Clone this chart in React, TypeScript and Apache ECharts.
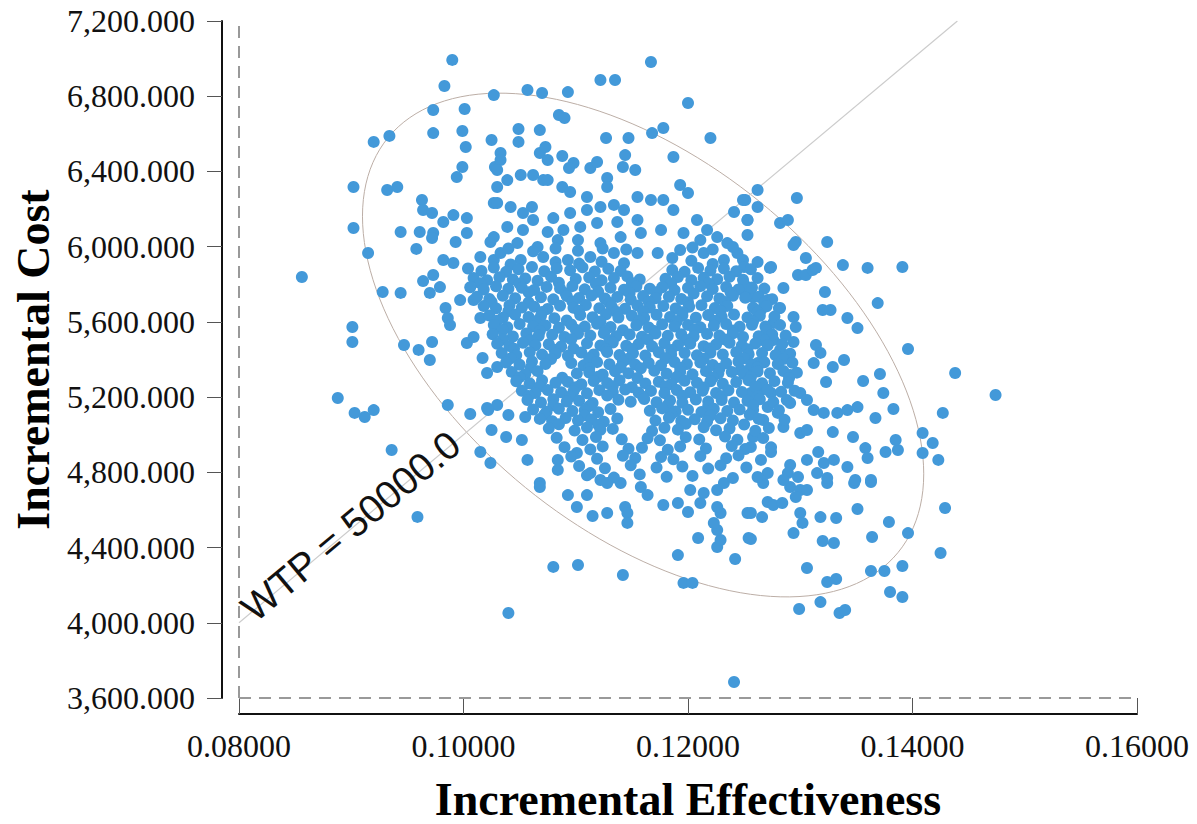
import React, { useEffect, useRef } from 'react';
import * as echarts from 'echarts';

const xTitle = 'Incremental Effectiveness';
const yTitle = 'Incremental Cost';
const xMin = 0.08;
const xMax = 0.16;
const xStep = 0.02;
const yMin = 3600;
const yMax = 7200;
const yStep = 400;
const WTP = 50000;
const wtpLabel = 'WTP = 50000.0';

// confidence ellipse (centre and two conjugate semi-axes, data units)
const ellipseCenter = [0.116, 5477];
const ellipseAxisU = [0.025, -685];
const ellipseAxisV = [0, 1151];

// scattered samples: [incremental effectiveness, incremental cost]
const outerSamples: [number, number][] = [
  [0.0990,6993],[0.0983,6854],[0.1027,6806],[0.0973,6727],[0.1001,6732],[0.0920,6557],[0.0934,6589],[0.0973,6604],[0.0999,6615],[0.1002,6530],[0.1025,6567],[0.0999,6424],[0.0994,6370],[0.0902,6317],[0.0932,6301],[0.0941,6317],[0.0963,6248],[0.0964,6195],[0.0972,6179],[0.0982,6131],[0.0991,6168],[0.1003,6152],[0.0902,6099],[0.0944,6078],[0.0961,6078],[0.0973,6073],[0.0972,6046],[0.1003,6073],[0.0993,6025],[0.1024,6025],[0.0958,5988],[0.0915,5966],[0.0982,5929],[0.0991,5913],[0.1015,5945],[0.1027,5929],[0.1028,6424],[0.1030,6317],[0.1027,6232],[0.1033,6498],
  [0.0856,5839],[0.0928,5759],[0.0944,5754],[0.0964,5817],[0.0973,5849],[0.0979,5785],[0.0970,5754],[0.0984,5674],[0.0986,5621],[0.0988,5583],[0.0997,5716],[0.1009,5716],[0.1015,5621],[0.1003,5488],[0.1009,5520],[0.0901,5573],[0.0901,5493],[0.0947,5477],[0.0960,5451],[0.0972,5493],[0.0970,5397],[0.1017,5408],[0.1021,5328],[0.1030,5360],[0.0888,5195],[0.0903,5116],[0.0912,5094],[0.0920,5131],[0.0986,5158],[0.1006,5110],[0.1021,5142],[0.1030,5158],[0.0936,4919],[0.1015,4908],[0.1024,4850],[0.0959,4563],[0.1040,4052],
  [0.1022,5131],[0.1040,5105],[0.1055,5094],[0.1025,5025],[0.1038,4988],[0.1052,4972],[0.1057,4866],[0.1084,4866],[0.1084,4813],[0.1068,4743],[0.1101,4903],[0.1113,4796],
  [0.1068,4722],[0.1093,4679],[0.1110,4679],[0.1101,4616],[0.1115,4568],[0.1128,4584],[0.1144,4616],[0.1146,4584],[0.1146,4531],[0.1080,4297],[0.1102,4307],[0.1142,4254],[0.1191,4360],[0.1196,4212],[0.1204,4212],[0.1209,4451],[0.1226,4403],[0.1229,4440],[0.1226,4493],[0.1229,4584],[0.1226,4616],[0.1223,4531],[0.1242,4339],[0.1241,3685],[0.1253,4584],[0.1254,4451],[0.1122,4759],[0.1128,4743],[0.1140,4743],[0.1158,4722],[0.1164,4679],[0.1178,4626],[0.1191,4637],[0.1200,4589],[0.1211,4637],[0.1214,4690],[0.1202,4706],[0.1226,4706],[0.1232,4743],
  [0.1267,4743],[0.1291,4722],[0.1300,4706],[0.1306,4706],[0.1324,4743],[0.1348,4743],[0.1363,4748],[0.1271,4642],[0.1276,4626],[0.1284,4637],[0.1296,4669],[0.1256,4584],[0.1266,4562],[0.1300,4584],[0.1302,4531],[0.1294,4477],[0.1318,4562],[0.1332,4557],[0.1351,4605],[0.1379,4536],[0.1429,4610],[0.1256,4445],[0.1320,4435],[0.1330,4424],[0.1364,4456],[0.1396,4477],[0.1425,4371],[0.1306,4291],[0.1324,4217],[0.1332,4233],[0.1363,4275],[0.1375,4275],[0.1391,4302],[0.1318,4110],[0.1299,4073],[0.1335,4052],[0.1340,4068],[0.1380,4164],[0.1391,4137],
  [0.1338,5902],[0.1360,5887],[0.1391,5892],[0.1273,5887],[0.1298,5849],[0.1305,5849],[0.1311,5876],[0.1285,5780],[0.1322,5759],[0.1369,5700],[0.1251,5754],[0.1258,5732],[0.1271,5716],[0.1265,5663],[0.1282,5674],[0.1320,5663],[0.1327,5663],[0.1342,5621],[0.1351,5567],[0.1294,5626],[0.1296,5573],[0.1276,5594],[0.1249,5520],[0.1267,5504],[0.1276,5504],[0.1282,5451],[0.1294,5493],[0.1314,5477],[0.1318,5435],[0.1312,5381],[0.1329,5360],[0.1339,5397],[0.1396,5456],[0.1438,5328],[0.1474,5211],[0.1291,5318],[0.1323,5280],[0.1356,5286],[0.1371,5323],[0.1374,5222],[0.1383,5137],[0.1367,5089],[0.1427,5116],[0.1247,5344],[0.1256,5360],[0.1262,5381],[0.1256,5222],[0.1265,5238],[0.1274,5222],[0.1271,5147],[0.1258,5131],[0.1280,5116],[0.1267,5078],[0.1285,5041],[0.1291,5169],[0.1300,5222],[0.1306,5185],[0.1312,5131],[0.1321,5116],[0.1333,5116],[0.1342,5131],[0.1351,5147],[0.1329,5014],[0.1347,4988],[0.1300,5009],[0.1306,5025],[0.1274,4908],[0.1291,4839],[0.1289,4796],[0.1306,4866],[0.1316,4908],[0.1321,4850],[0.1330,4866],[0.1315,4796],[0.1324,4770],[0.1342,4828],[0.1349,4759],[0.1363,4759],[0.1358,4929],[0.1360,4876],[0.1376,4908],[0.1387,4919],[0.1385,4972],[0.1409,5009],[0.1418,4956],[0.1409,4903],[0.1423,4866],[0.1258,4988],[0.1256,4935],[0.1265,4866],[0.1271,4796],[0.1262,4775],[0.1285,4759],[0.1298,4775],
  [0.1262,6301],[0.1251,6248],[0.1262,6211],[0.1297,6259],[0.1253,6142],[0.1253,6062],[0.1282,6126],[0.1289,6142],[0.1296,6025],[0.1294,6009],[0.1324,6025],[0.1305,5940],[0.1314,5887],[0.1262,5918],[0.1274,5892],[0.1249,5929],
  [0.1167,6982],[0.1122,6886],[0.1135,6886],[0.1057,6833],[0.1070,6817],[0.1093,6822],[0.1200,6764],[0.1085,6700],[0.1090,6684],[0.1049,6626],[0.1068,6620],[0.1049,6557],[0.1127,6578],[0.1147,6578],[0.1168,6604],[0.1178,6631],[0.1220,6578],[0.1068,6498],[0.1073,6530],[0.1075,6461],[0.1088,6482],[0.1033,6461],[0.1030,6408],[0.1098,6445],[0.1094,6418],[0.1113,6418],[0.1119,6450],[0.1144,6487],[0.1142,6424],[0.1153,6408],[0.1187,6477],[0.1039,6354],[0.1051,6381],[0.1062,6381],[0.1071,6354],[0.1075,6354],[0.1088,6317],[0.1095,6291],[0.1128,6365],[0.1128,6317],[0.1193,6328],[0.1200,6285],[0.1110,6264],[0.1249,6248],[0.1241,6184],[0.1253,6142],[0.1208,6142],[0.1217,6089],
  [0.1030,6232],[0.1042,6211],[0.1053,6179],[0.1061,6211],[0.1062,6142],[0.1080,6152],[0.1095,6179],[0.1110,6195],[0.1122,6211],[0.1134,6222],[0.1143,6195],[0.1155,6264],[0.1167,6248],[0.1178,6248],[0.1187,6195],[0.1155,6142],[0.1137,6131],[0.1119,6126],[0.1104,6105],[0.1089,6089],[0.1075,6078],[0.1053,6089],[0.1039,6105],[0.1027,6051],[0.1048,6019],[0.1066,5998],[0.1084,6035],[0.1102,6035],[0.1122,6019],[0.1140,6051],[0.1158,6073],[0.1176,6089],[0.1196,6073],[0.1211,6035],[0.1226,6051],[0.1235,6019],[0.1244,5966],[0.1033,5966],[0.1051,5929],[0.1071,5945],[0.1093,5929],[0.1113,5945],[0.1134,5966],[0.1155,5966],[0.1173,5966],[0.1193,5982],[0.1214,5966],[0.1232,5929],[0.1250,5892],
  [0.1040,5990],[0.1062,5975],[0.1082,5990],[0.1102,5978],[0.1124,5990],[0.1145,5985],[0.1186,5940],[0.1204,5995],[0.1222,5985],[0.1240,5998],[0.1042,5905],[0.1082,5918],[0.1103,5910],[0.1123,5920],[0.1143,5912],[0.1203,5925],[0.1222,5908],
];

// dense centre of the cloud, read row by row
const coreSamples: [number, number][] = [
  [0.1004,5884],[0.1016,5871],[0.1027,5889],[0.1038,5866],[0.1049,5880],[0.1061,5892],[0.1072,5869],[0.1083,5885],[0.1095,5874],[0.1106,5890],[0.1117,5868],[0.1129,5882],[0.1140,5871],[0.1186,5876],[0.1197,5866],[0.1209,5887],[0.1220,5873],[0.1232,5884],[0.1243,5869],[0.1256,5880],
  [0.1009,5834],[0.1021,5822],[0.1032,5838],[0.1044,5826],[0.1055,5831],[0.1066,5819],[0.1078,5840],[0.1100,5828],[0.1112,5836],[0.1123,5821],[0.1134,5833],[0.1146,5842],[0.1157,5826],[0.1180,5830],[0.1191,5839],[0.1203,5822],[0.1214,5835],[0.1226,5827],[0.1237,5840],[0.1249,5824],[0.1262,5833],
  [0.1015,5806],[0.1050,5803],[0.1085,5808],[0.1118,5802],[0.1150,5807],[0.1185,5804],[0.1218,5806],[0.1250,5802],
  [0.1006,5784],[0.1018,5772],[0.1029,5789],[0.1040,5776],[0.1052,5781],[0.1063,5770],[0.1074,5786],[0.1086,5778],[0.1097,5790],[0.1108,5773],[0.1131,5782],[0.1143,5771],[0.1154,5788],[0.1166,5776],[0.1177,5784],[0.1188,5769],[0.1200,5781],[0.1211,5790],[0.1222,5775],[0.1234,5786],[0.1245,5772],[0.1257,5783],[0.1268,5777],
  [0.1058,5757],[0.1091,5752],[0.1120,5760],[0.1148,5754],[0.1172,5758],[0.1205,5751],[0.1238,5756],
  [0.1012,5734],[0.1023,5722],[0.1035,5739],[0.1046,5726],[0.1069,5731],[0.1080,5720],[0.1092,5737],[0.1103,5727],[0.1114,5740],[0.1126,5724],[0.1137,5733],[0.1149,5719],[0.1160,5738],[0.1171,5726],[0.1183,5734],[0.1194,5722],[0.1217,5736],[0.1228,5725],[0.1240,5739],[0.1251,5728],[0.1263,5734],[0.1275,5721],
  [0.1025,5706],[0.1058,5703],[0.1097,5708],[0.1130,5702],[0.1165,5707],[0.1200,5704],[0.1233,5706],[0.1268,5702],
  [0.1018,5684],[0.1029,5672],[0.1041,5688],[0.1052,5676],[0.1063,5681],[0.1075,5669],[0.1086,5686],[0.1098,5675],[0.1109,5690],[0.1121,5673],[0.1132,5682],[0.1144,5670],[0.1155,5687],[0.1166,5676],[0.1178,5684],[0.1189,5671],[0.1201,5680],[0.1212,5689],[0.1224,5674],[0.1235,5685],[0.1258,5676],[0.1270,5683],[0.1281,5672],
  [0.1040,5657],[0.1070,5652],[0.1103,5659],[0.1136,5654],[0.1160,5656],[0.1195,5651],[0.1229,5658],[0.1262,5653],
  [0.1023,5634],[0.1035,5622],[0.1046,5639],[0.1058,5626],[0.1069,5631],[0.1081,5620],[0.1104,5637],[0.1115,5625],[0.1127,5640],[0.1138,5623],[0.1150,5633],[0.1161,5621],[0.1172,5638],[0.1184,5626],[0.1195,5634],[0.1207,5622],[0.1218,5636],[0.1230,5627],[0.1241,5639],[0.1253,5624],[0.1264,5633],[0.1277,5628],
  [0.1030,5606],[0.1064,5603],[0.1092,5608],[0.1122,5602],[0.1157,5607],[0.1190,5604],[0.1224,5606],[0.1258,5602],
  [0.1027,5584],[0.1039,5572],[0.1050,5589],[0.1062,5576],[0.1073,5581],[0.1085,5569],[0.1096,5586],[0.1108,5575],[0.1119,5590],[0.1131,5573],[0.1154,5582],[0.1165,5570],[0.1177,5587],[0.1188,5576],[0.1200,5584],[0.1211,5571],[0.1223,5580],[0.1234,5589],[0.1246,5574],[0.1257,5585],[0.1269,5576],[0.1282,5583],
  [0.1035,5557],[0.1068,5552],[0.1100,5558],[0.1126,5553],[0.1142,5556],[0.1170,5551],[0.1206,5559],[0.1240,5554],[0.1270,5556],
  [0.1026,5534],[0.1044,5522],[0.1056,5538],[0.1067,5526],[0.1079,5531],[0.1090,5520],[0.1102,5537],[0.1113,5527],[0.1125,5540],[0.1136,5524],[0.1148,5533],[0.1159,5521],[0.1171,5538],[0.1182,5526],[0.1194,5534],[0.1205,5522],[0.1217,5536],[0.1228,5527],[0.1240,5539],[0.1263,5524],[0.1275,5533],[0.1287,5528],
  [0.1035,5506],[0.1060,5503],[0.1096,5508],[0.1130,5502],[0.1164,5507],[0.1199,5504],[0.1233,5506],[0.1268,5502],
  [0.1030,5484],[0.1041,5472],[0.1053,5489],[0.1064,5476],[0.1076,5481],[0.1087,5469],[0.1110,5486],[0.1122,5475],[0.1133,5490],[0.1145,5473],[0.1156,5482],[0.1168,5470],[0.1179,5487],[0.1191,5476],[0.1202,5484],[0.1214,5471],[0.1225,5480],[0.1237,5489],[0.1248,5474],[0.1260,5485],[0.1271,5476],[0.1284,5483],
  [0.1045,5457],[0.1081,5452],[0.1098,5458],[0.1127,5453],[0.1150,5456],[0.1185,5451],[0.1219,5459],[0.1253,5454],
  [0.1034,5434],[0.1047,5422],[0.1059,5438],[0.1070,5426],[0.1082,5431],[0.1093,5420],[0.1105,5437],[0.1116,5427],[0.1128,5440],[0.1139,5424],[0.1151,5433],[0.1162,5421],[0.1174,5438],[0.1185,5426],[0.1197,5434],[0.1208,5422],[0.1220,5436],[0.1231,5427],[0.1243,5439],[0.1254,5428],[0.1266,5434],[0.1278,5423],[0.1291,5431],
  [0.1042,5406],[0.1078,5403],[0.1112,5408],[0.1146,5402],[0.1180,5407],[0.1214,5404],[0.1250,5406],[0.1285,5402],
  [0.1038,5384],[0.1050,5372],[0.1061,5389],[0.1073,5376],[0.1096,5381],[0.1107,5369],[0.1119,5386],[0.1130,5375],[0.1142,5390],[0.1153,5373],[0.1165,5382],[0.1176,5370],[0.1188,5387],[0.1199,5376],[0.1211,5384],[0.1222,5371],[0.1234,5380],[0.1245,5389],[0.1257,5374],[0.1268,5385],[0.1280,5376],[0.1293,5383],
  [0.1060,5357],[0.1112,5352],[0.1140,5358],[0.1158,5353],[0.1193,5356],[0.1228,5351],[0.1262,5357],
  [0.1043,5334],[0.1055,5322],[0.1066,5338],[0.1101,5326],[0.1112,5331],[0.1124,5320],[0.1135,5337],[0.1147,5327],[0.1170,5340],[0.1181,5324],[0.1193,5333],[0.1204,5321],[0.1216,5338],[0.1227,5326],[0.1239,5334],[0.1250,5322],[0.1262,5336],[0.1273,5327],[0.1285,5339],[0.1297,5330],
  [0.1050,5306],[0.1088,5303],[0.1120,5308],[0.1155,5302],[0.1190,5307],[0.1222,5304],[0.1256,5306],[0.1290,5302],
  [0.1047,5284],[0.1059,5272],[0.1070,5289],[0.1082,5276],[0.1093,5281],[0.1105,5269],[0.1116,5286],[0.1128,5275],[0.1139,5290],[0.1162,5273],[0.1174,5282],[0.1185,5270],[0.1197,5287],[0.1208,5276],[0.1220,5284],[0.1231,5271],[0.1243,5280],[0.1254,5289],[0.1266,5274],[0.1277,5285],[0.1289,5276],
  [0.1068,5257],[0.1100,5252],[0.1133,5258],[0.1150,5253],[0.1180,5256],[0.1214,5251],[0.1260,5257],
  [0.1052,5234],[0.1064,5222],[0.1075,5238],[0.1087,5226],[0.1098,5231],[0.1110,5220],[0.1121,5237],[0.1133,5227],[0.1144,5240],[0.1156,5224],[0.1167,5233],[0.1179,5221],[0.1190,5238],[0.1202,5226],[0.1213,5234],[0.1225,5222],[0.1236,5236],[0.1248,5227],[0.1271,5239],[0.1283,5228],[0.1295,5234],
  [0.1058,5206],[0.1095,5203],[0.1128,5208],[0.1160,5202],[0.1195,5207],[0.1230,5204],[0.1262,5206],
  [0.1057,5184],[0.1069,5172],[0.1080,5189],[0.1092,5176],[0.1103,5181],[0.1115,5169],[0.1138,5186],[0.1149,5175],[0.1161,5190],[0.1172,5173],[0.1184,5182],[0.1195,5170],[0.1207,5187],[0.1218,5176],[0.1230,5184],[0.1241,5171],[0.1253,5180],[0.1264,5189],[0.1276,5174],[0.1288,5185],
  [0.1080,5157],[0.1112,5152],[0.1182,5158],[0.1218,5153],[0.1258,5156],
  [0.1062,5134],[0.1074,5122],[0.1085,5138],[0.1097,5126],[0.1108,5131],[0.1120,5120],[0.1131,5137],[0.1166,5127],[0.1177,5140],[0.1189,5124],[0.1200,5133],[0.1212,5121],[0.1223,5138],[0.1235,5126],[0.1246,5134],[0.1281,5130],
  [0.1072,5106],[0.1108,5103],[0.1185,5108],[0.1220,5102],[0.1255,5106],
  [0.1068,5084],[0.1079,5072],[0.1091,5089],[0.1102,5076],[0.1114,5081],[0.1125,5069],[0.1137,5086],[0.1171,5075],[0.1183,5090],[0.1194,5073],[0.1206,5082],[0.1217,5070],[0.1229,5087],[0.1240,5076],[0.1263,5084],[0.1286,5079],
  [0.1085,5056],[0.1120,5053],[0.1198,5058],[0.1250,5054],
  [0.1076,5034],[0.1099,5022],[0.1110,5038],[0.1122,5026],[0.1133,5031],[0.1168,5020],[0.1179,5037],[0.1191,5027],[0.1214,5040],[0.1225,5024],[0.1237,5033],[0.1260,5021],[0.1272,5036],
  [0.1083,4984],[0.1106,4972],[0.1118,4988],[0.1141,4976],[0.1164,4981],[0.1175,4970],[0.1198,4987],[0.1210,4975],[0.1233,4990],[0.1244,4973],[0.1267,4982],
  [0.1090,4934],[0.1113,4922],[0.1124,4938],[0.1147,4926],[0.1159,4931],[0.1182,4920],[0.1193,4937],[0.1216,4927],[0.1239,4940],[0.1251,4924],[0.1274,4933],
  [0.1096,4884],[0.1119,4872],[0.1142,4888],[0.1153,4876],[0.1176,4881],[0.1187,4869],[0.1211,4886],[0.1234,4875],[0.1245,4890],
  [0.1103,4834],[0.1126,4822],[0.1149,4838],[0.1172,4826],[0.1195,4831],[0.1218,4820],[0.1229,4837],[0.1252,4826],
  [0.1110,4784],[0.1134,4772],[0.1157,4789],[0.1181,4776],[0.1204,4781],[0.1240,4770],
];

const serif = "'Liberation Serif', 'Times New Roman', Times, serif";
const sans = "'Liberation Sans', Arial, Helvetica, sans-serif";

function ellipsePoints(): [number, number][] {
  const pts: [number, number][] = [];
  const n = 160;
  for (let i = 0; i <= n; i++) {
    const t = (2 * Math.PI * i) / n;
    const c = Math.cos(t);
    const s = Math.sin(t);
    pts.push([
      ellipseCenter[0] + ellipseAxisU[0] * c + ellipseAxisV[0] * s,
      ellipseCenter[1] + ellipseAxisU[1] * c + ellipseAxisV[1] * s,
    ]);
  }
  return pts;
}

// WTP threshold line: cost (axis units) = WTP * effectiveness
const wtpStart: [number, number] = [xMin, WTP * xMin];
const wtpEnd: [number, number] = [yMax / WTP, yMax];

export default function App() {
  const ref = useRef<HTMLDivElement>(null);
  useEffect(() => {
    if (!ref.current) return;
    const chart = echarts.init(ref.current, null, { renderer: 'svg' });
    const option: any = {
      animation: false,
      backgroundColor: '#ffffff',
      grid: { left: 239, right: 60, top: 21, bottom: 126, containLabel: false, outerBoundsMode: 'none' },
      xAxis: {
        type: 'value',
        min: xMin,
        max: xMax,
        interval: xStep,
        offset: 16,
        name: xTitle,
        nameLocation: 'middle',
        nameGap: 62,
        nameTextStyle: { fontFamily: serif, fontWeight: 'bold', fontSize: 46, color: '#000' },
        axisLine: { show: true, onZero: false, lineStyle: { color: '#111', width: 2 } },
        axisTick: { show: true, inside: true, length: 16, lineStyle: { color: '#555', width: 1 } },
        axisLabel: {
          fontFamily: serif,
          fontSize: 32,
          color: '#111',
          margin: 16,
          formatter: (v: number) => v.toFixed(5),
        },
        splitLine: { show: false },
      },
      yAxis: {
        type: 'value',
        min: yMin,
        max: yMax,
        interval: yStep,
        offset: 17,
        name: yTitle,
        nameLocation: 'middle',
        nameGap: 164,
        nameTextStyle: { fontFamily: serif, fontWeight: 'bold', fontSize: 46, color: '#000' },
        axisLine: { show: true, onZero: false, lineStyle: { color: '#111', width: 2 } },
        axisTick: { show: true, inside: false, length: 15, lineStyle: { color: '#555', width: 1 } },
        axisLabel: {
          fontFamily: serif,
          fontSize: 32,
          color: '#111',
          margin: 27,
          formatter: (v: number) =>
            v.toLocaleString('en-US', { minimumFractionDigits: 3, maximumFractionDigits: 3 }),
        },
        splitLine: { show: false },
      },
      series: [
        {
          type: 'line',
          name: 'ellipse',
          data: ellipsePoints(),
          showSymbol: false,
          symbol: 'none',
          silent: true,
          z: 1,
          lineStyle: { color: '#bcaea6', width: 1 },
          markLine: {
            silent: true,
            symbol: 'none',
            label: { show: false },
            lineStyle: { color: '#999999', type: [12, 8], width: 2 },
            data: [{ xAxis: xMin }, { yAxis: yMin }],
          },
        },
        {
          type: 'line',
          name: 'wtp',
          data: [wtpStart, wtpEnd],
          showSymbol: false,
          symbol: 'none',
          silent: true,
          z: 1,
          lineStyle: { color: '#cccccc', width: 1.2 },
        },
        {
          type: 'scatter',
          name: 'samples',
          data: [...outerSamples, ...coreSamples],
          symbolSize: 12,
          z: 3,
          itemStyle: { color: '#4399d9', opacity: 1 },
        },
      ],
    };
    chart.setOption(option);

    // WTP label laid along the threshold line, baseline sitting on it
    const p0 = chart.convertToPixel({ gridIndex: 0 }, wtpStart) as number[];
    const p1 = chart.convertToPixel({ gridIndex: 0 }, wtpEnd) as number[];
    const dx = p1[0] - p0[0];
    const dy = p1[1] - p0[1];
    const len = Math.hypot(dx, dy);
    const ux = dx / len;
    const uy = dy / len;
    const nx = -uy;
    const ny = ux;
    const fontSize = 39;
    const ax = p0[0] + ux * 12 + nx * 17;
    const ay = p0[1] + uy * 12 + ny * 17;
    chart.setOption({
      graphic: [
        {
          type: 'text',
          x: ax,
          y: ay,
          rotation: Math.atan2(-dy, dx),
          silent: true,
          z: 10,
          style: {
            text: wtpLabel,
            fontSize,
            fontFamily: sans,
            fill: '#111',
            align: 'left',
            verticalAlign: 'bottom',
          },
        },
      ],
    });
    return () => chart.dispose();
  }, []);
  return (
    <div
      ref={ref}
      style={{ position: 'fixed', left: 0, top: 0, width: 1197, height: 824, background: '#fff' }}
    />
  );
}
